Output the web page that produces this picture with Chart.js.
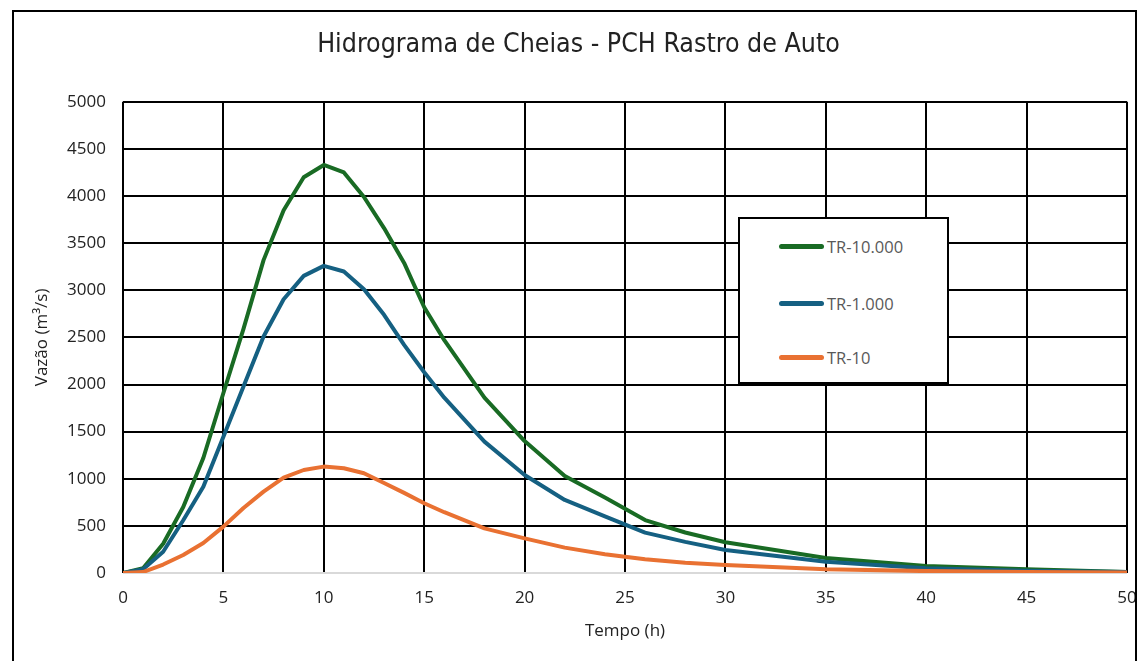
<!DOCTYPE html>
<html>
<head>
<meta charset="utf-8">
<script src="https://cdn.jsdelivr.net/npm/chart.js@4/dist/chart.umd.min.js"></script>
<style>
  html, body { margin: 0; padding: 0; background: #fff; overflow: hidden; }
  .wrap { position: relative; width: 1137px; height: 661px; }
  .frame { position: absolute; left: 12px; top: 10px; width: 1121px; height: 700px; border: 2px solid #000; pointer-events: none; }
  canvas { position: absolute; left: 0; top: 0; }
  .legend { position: absolute; left: 738px; top: 217px; width: 207px; height: 163px; border: 2px solid #000; background: #fff; }
  .legend-item { position: absolute; left: 39px; height: 20px; display: flex; align-items: center; font: 16.5px "Open Sans", sans-serif; color: #595959; }
  .legend-item span.swatch { display: inline-block; width: 45px; height: 5px; border-radius: 3px; margin-right: 3px; }
</style>
</head>
<body>
<div class="wrap">
  <canvas id="chart" width="1137" height="661"></canvas>
  <div class="frame"></div>
  <div class="legend" id="legend"></div>
</div>
<script>
const hours = [0, 1, 2, 3, 4, 5, 6, 7, 8, 9, 10, 11, 12, 13, 14, 15, 16, 18, 20, 22, 24, 26, 28, 30, 35, 40, 45, 50];

const tr10000 = [0, 50, 310, 700, 1220, 1910, 2590, 3320, 3850, 4200, 4330, 4250, 3990, 3660, 3290, 2820, 2470, 1860, 1400, 1030, 800, 562, 430, 326, 160, 75, 40, 10];
const tr1000 = [0, 40, 226, 560, 916, 1447, 1980, 2510, 2905, 3153, 3259, 3199, 3012, 2740, 2420, 2130, 1860, 1394, 1040, 775, 600, 428, 330, 244, 120, 50, 25, 10];
const tr10 = [0, 10, 90, 191, 318, 492, 690, 864, 1012, 1093, 1129, 1111, 1058, 955, 850, 740, 645, 474, 368, 269, 200, 145, 110, 85, 40, 20, 10, 5];

const seriesNames = [`TR-10.000`, `TR-1.000`, `TR-10`];
const seriesColors = [`#196b24`, `#156082`, `#e97132`];
const seriesValues = [tr10000, tr1000, tr10];

const TITLE = `Hidrograma de Cheias - PCH Rastro de Auto`;
const Y_TITLE = `Vazão (m³/s)`;
const X_TITLE = `Tempo (h)`;

const toPoints = (values) => values.map((v, i) => ({x: hours[i], y: v}));

const datasets = seriesValues.map((values, i) => ({
  label: seriesNames[i],
  data: toPoints(values),
  borderColor: seriesColors[i],
  backgroundColor: seriesColors[i],
  borderWidth: 4,
  pointRadius: 0,
  tension: 0,
  borderCapStyle: `round`,
  borderJoinStyle: `round`,
  order: seriesNames.length - i,
}));

const tickFont = {family: `"Open Sans", sans-serif`, size: 17};
const axisTitleFont = {family: `"Open Sans", sans-serif`, size: 17};
const plainNumber = (value) => String(value);

const ctx = document.getElementById(`chart`).getContext(`2d`);
new Chart(ctx, {
  type: `line`,
  data: {datasets},
  options: {
    responsive: false,
    animation: false,
    layout: {padding: {left: 30, right: 10, top: 0, bottom: 20}},
    plugins: {
      legend: {display: false},
      tooltip: {enabled: false},
      title: {
        display: true,
        text: TITLE,
        color: `#222`,
        font: {family: `"Liberation Sans Narrow", "DejaVu Sans Condensed", sans-serif`, size: 26.5, weight: `normal`},
        padding: {top: 29, bottom: 41},
      },
    },
    scales: {
      x: {
        type: `linear`,
        min: 0,
        max: 50,
        border: {display: false},
        grid: {
          color: `#000`,
          lineWidth: 2,
          drawTicks: true,
          tickLength: 15,
          tickColor: `rgba(0,0,0,0)`,
        },
        ticks: {stepSize: 5, color: `#222`, font: tickFont, padding: 0, callback: plainNumber},
        title: {display: true, text: X_TITLE, color: `#222`, font: axisTitleFont, padding: {top: 10, bottom: 0}},
        afterFit: (scale) => {
          scale.height = 68;
        },
      },
      y: {
        type: `linear`,
        min: 0,
        max: 5000,
        border: {display: false},
        grid: {
          color: (c) => (c.tick && c.tick.value === 0 ? `#d9d9d9` : `#000`),
          lineWidth: 2,
          drawTicks: false,
        },
        ticks: {stepSize: 500, color: `#222`, font: tickFont, padding: 17, callback: plainNumber},
        title: {display: true, text: Y_TITLE, color: `#222`, font: axisTitleFont, padding: {top: 2, bottom: 0}},
        afterFit: (scale) => {
          scale.width = 93;
        },
      },
    },
  },
});

const legendBox = document.getElementById(`legend`);
const rowTops = [17, 74, 128];
seriesNames.forEach((name, i) => {
  const item = document.createElement(`div`);
  item.className = `legend-item`;
  item.style.top = `${rowTops[i]}px`;
  item.innerHTML = `<span class="swatch" style="background:${seriesColors[i]}"></span>${name}`;
  legendBox.appendChild(item);
});
</script>
</body>
</html>
